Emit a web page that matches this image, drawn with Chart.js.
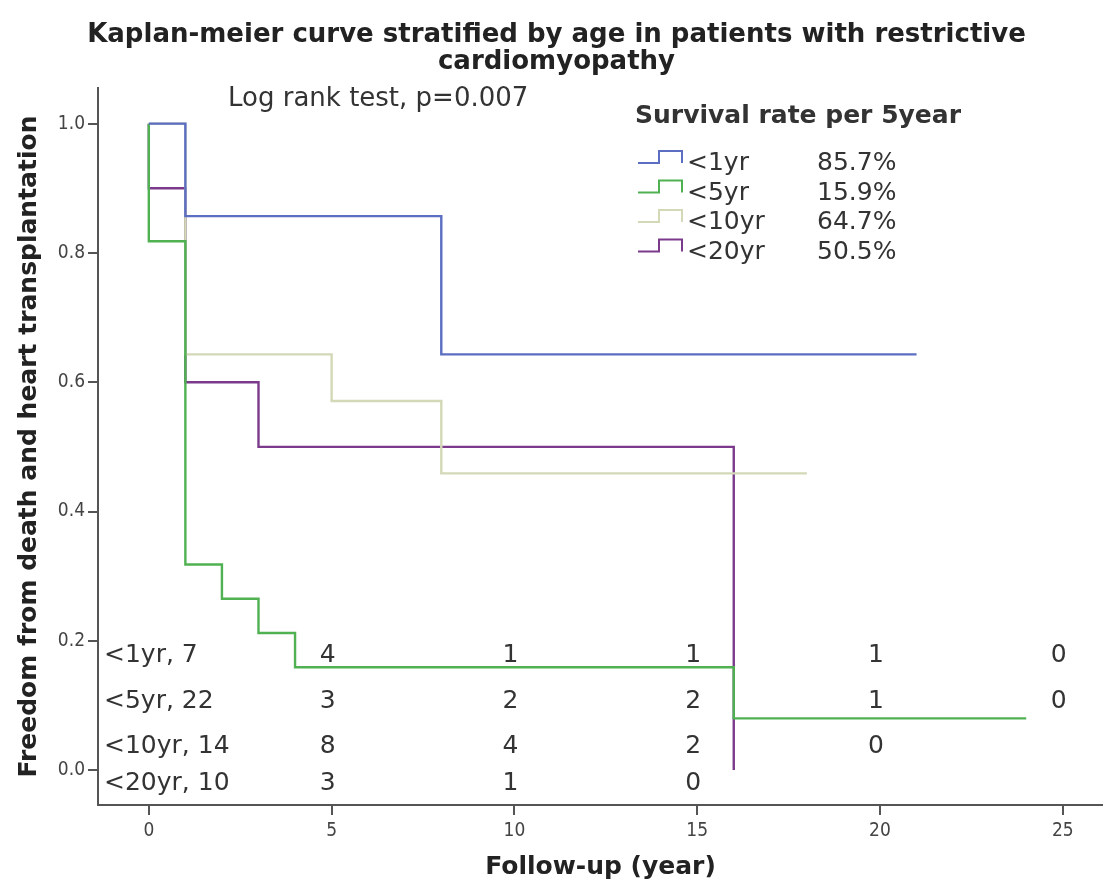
<!DOCTYPE html>
<html>
<head>
<meta charset="utf-8">
<script src="https://cdn.jsdelivr.net/npm/chart.js@4.4.1/dist/chart.umd.min.js"></script>
<style>
  html, body { margin: 0; padding: 0; background: #fff; }
  #wrap { width: 1103px; height: 886px; }
</style>
</head>
<body>
<div id="wrap"><canvas id="km"></canvas></div>
<script>
// ============================================
// DATI
// ============================================
const GROUPS = ['<1yr', '<5yr', '<10yr', '<20yr'];
const RATES  = ['85.7%', '15.9%', '64.7%', '50.5%'];

// tempi (anni) e sopravvivenza dopo ogni evento
const T_1YR  = [0, 1, 8, 21];
const S_1YR  = [1.0, 0.857, 0.643, 0.643];
const T_5YR  = [0, 0, 1, 2, 3, 4, 16, 24];
const S_5YR  = [1.0, 0.818, 0.318, 0.265, 0.212, 0.159, 0.080, 0.080];
const T_10YR = [0, 1, 5, 8, 18];
const S_10YR = [1.0, 0.643, 0.571, 0.459, 0.459];
const T_20YR = [0, 0, 1, 3, 16];
const S_20YR = [1.0, 0.9, 0.6, 0.5, 0.0];

// numeri a rischio
const AT_RISK_N     = [7, 22, 14, 10];
const AT_RISK_TIMES = [5, 10, 15, 20, 25];
const AT_RISK = [
    [4, 1, 1, 1, 0],
    [3, 2, 2, 1, 0],
    [8, 4, 2, 0],
    [3, 1, 0]
];

const X_TICKS = [0, 5, 10, 15, 20, 25];
const Y_TICKS = [0.0, 0.2, 0.4, 0.6, 0.8, 1.0];

// ============================================
// STILE
// ============================================
const COLORS = ['#5b6ec2', '#4fb152', '#d3d9b6', '#7b3a8c'];
const FONT = "'DejaVu Sans', sans-serif";
const FONT_NARROW = "'DejaVu Sans Condensed', 'Liberation Sans Narrow', sans-serif";
const TEXT = '#333';

const toPoints = (t, s) => t.map((x, i) => ({ x: x, y: s[i] }));
const SERIES = [toPoints(T_1YR, S_1YR), toPoints(T_5YR, S_5YR), toPoints(T_10YR, S_10YR), toPoints(T_20YR, S_20YR)];

// riga della tabella "a rischio" (in unità dell'asse y, baseline)
const ROW_Y = [0.167, 0.096, 0.026, -0.031];

// testi extra: log rank, legenda, tabella
const annotations = {
    id: 'annotations',
    afterDraw(chart) {
        const { ctx, chartArea, scales: { x, y } } = chart;
        ctx.save();
        ctx.fillStyle = TEXT;
        ctx.textBaseline = 'alphabetic';

        // log rank
        ctx.font = '26px ' + FONT;
        ctx.textAlign = 'left';
        ctx.fillText('Log rank test, p=0.007', 228, 106);

        // legenda
        ctx.font = 'bold 25px ' + FONT;
        ctx.fillText('Survival rate per 5year', 635, 123);
        ctx.font = '25px ' + FONT;
        GROUPS.forEach((g, i) => {
            const base = 170 + i * 29.5;
            ctx.strokeStyle = COLORS[i];
            ctx.lineWidth = 2;
            ctx.beginPath();
            ctx.moveTo(638, base - 7);
            ctx.lineTo(659, base - 7);
            ctx.lineTo(659, base - 19);
            ctx.lineTo(682, base - 19);
            ctx.lineTo(682, base - 7);
            ctx.stroke();
            ctx.fillText(g, 687, base);
            ctx.fillText(RATES[i], 817, base);
        });

        // tabella a rischio
        ctx.font = '25px ' + FONT;
        AT_RISK.forEach((row, r) => {
            const py = y.getPixelForValue(ROW_Y[r]);
            ctx.textAlign = 'left';
            ctx.fillText(GROUPS[r] + ', ' + AT_RISK_N[r], chartArea.left + 6, py);
            ctx.textAlign = 'center';
            row.forEach((n, c) => {
                ctx.fillText(String(n), x.getPixelForValue(AT_RISK_TIMES[c]) - 4, py);
            });
        });
        ctx.restore();
    }
};

new Chart(document.getElementById('km'), {
    type: 'line',
    data: {
        datasets: SERIES.map((pts, i) => ({
            label: GROUPS[i],
            data: pts,
            borderColor: COLORS[i],
            borderWidth: 2.4,
            pointRadius: 0,
            stepped: 'before',
            fill: false
        }))
    },
    options: {
        animation: false,
        responsive: true,
        maintainAspectRatio: false,
        layout: { padding: { left: 10, right: 0, top: 22, bottom: 0 } },
        plugins: {
            legend: { display: false },
            tooltip: { enabled: false },
            title: {
                display: true,
                text: ['Kaplan-meier curve stratified by age in patients with restrictive', 'cardiomyopathy'],
                color: '#222',
                font: { family: FONT, size: 26, weight: 'bold', lineHeight: 1.04 },
                padding: { top: 0, bottom: 12 }
            }
        },
        scales: {
            x: {
                type: 'linear',
                min: -1.39,
                max: 26.1,
                afterBuildTicks: s => { s.ticks = X_TICKS.map(v => ({ value: v })); },
                afterFit: s => { s.height = 81; },
                grid: { drawOnChartArea: false, tickLength: 10, color: '#555', lineWidth: 2 },
                border: { color: '#555', width: 2 },
                ticks: { color: '#444', font: { family: FONT_NARROW, size: 19 }, padding: 5 },
                title: { display: true, text: 'Follow-up (year)', color: '#222', font: { family: FONT, size: 25, weight: 'bold' }, padding: { top: 6 } }
            },
            y: {
                type: 'linear',
                min: -0.054,
                max: 1.055,
                afterBuildTicks: s => { s.ticks = Y_TICKS.map(v => ({ value: v })); },
                afterFit: s => { s.width = 88; },
                grid: { drawOnChartArea: false, tickLength: 10, color: '#555', lineWidth: 2 },
                border: { color: '#555', width: 2 },
                ticks: { color: '#444', font: { family: FONT_NARROW, size: 19 }, padding: 3, callback: v => v.toFixed(1) },
                title: { display: true, text: 'Freedom from death and heart transplantation', color: '#222', font: { family: FONT, size: 25, weight: 'bold' }, padding: { bottom: 4 } }
            }
        }
    },
    plugins: [annotations]
});
</script>
</body>
</html>
